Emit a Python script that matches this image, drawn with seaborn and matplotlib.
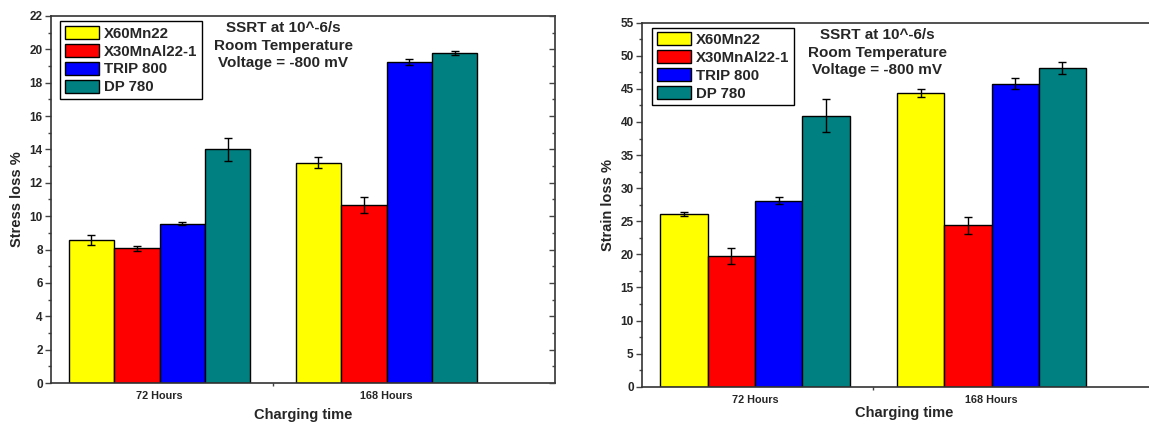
import numpy as np
import pandas as pd
import matplotlib
matplotlib.use("Agg")
import matplotlib.pyplot as plt
import seaborn as sns
from matplotlib.ticker import MultipleLocator, FixedLocator

# ---- data ----
charging = ["72 Hours", "168 Hours"]
steels = ["X60Mn22", "X30MnAl22-1", "TRIP 800", "DP 780"]
colors = ["#FFFF00", "#FF0000", "#0000FF", "#008080"]

stress_72 = [8.57, 8.09, 9.55, 14.0]
stress_168 = [13.21, 10.67, 19.23, 19.78]
stress_err_72 = [0.3, 0.15, 0.08, 0.7]
stress_err_168 = [0.35, 0.5, 0.17, 0.1]

strain_72 = [26.1, 19.8, 28.1, 40.95]
strain_168 = [44.38, 24.39, 45.8, 48.16]
strain_err_72 = [0.3, 1.2, 0.5, 2.45]
strain_err_168 = [0.65, 1.3, 0.8, 0.85]

annot = "SSRT at 10^-6/s\nRoom Temperature\nVoltage = -800 mV"

sns.set_theme(style="white")
plt.rcParams["font.family"] = ["Liberation Sans", "DejaVu Sans"]
plt.rcParams["font.weight"] = "bold"

fig = plt.figure(figsize=(11.49, 4.23), dpi=100)
W, H = 1149, 423


def make_df(v72, v168, e72, e168):
    rows = []
    for s, a, b, ea, eb in zip(steels, v72, v168, e72, e168):
        rows.append({"time": charging[0], "steel": s, "val": a, "err": ea})
        rows.append({"time": charging[1], "steel": s, "val": b, "err": eb})
    return pd.DataFrame(rows)


def panel(rect, df, ylim, major, minor, ylabel, leg_anchor, ann_xy, xpad):
    ax = fig.add_axes(rect)
    sns.barplot(data=df, x="time", y="val", hue="steel", order=charging,
                hue_order=steels, palette=colors, errorbar=None, width=0.8,
                edgecolor="black", linewidth=1.0, saturation=1, ax=ax)
    # error bars placed at the centres of the drawn bars
    for cont, s in zip(ax.containers, steels):
        sub = df[df["steel"] == s].set_index("time").loc[charging]
        xs = [p.get_x() + p.get_width() / 2 for p in cont.patches]
        ax.errorbar(xs, sub["val"].values, yerr=sub["err"].values, fmt="none",
                    ecolor="black", elinewidth=1.0, capsize=3, capthick=1.0,
                    zorder=5)
    ax.set_xlim(-0.478, 1.742)
    ax.set_ylim(*ylim)
    ax.yaxis.set_major_locator(MultipleLocator(major))
    ax.yaxis.set_minor_locator(MultipleLocator(minor))
    ax.xaxis.set_minor_locator(FixedLocator([0.5]))
    ax.tick_params(axis="y", which="major", direction="out", length=4,
                   width=1, color="#444444", labelsize=8.5, pad=2, left=True)
    ax.tick_params(axis="y", which="minor", direction="out", length=2.5,
                   width=1, color="#444444", left=True)
    ax.tick_params(axis="x", which="major", length=0, labelsize=7.8, pad=6)
    ax.tick_params(axis="x", which="minor", direction="out", length=2.5,
                   width=1, color="#444444", bottom=True)
    for lab in ax.get_xticklabels() + ax.get_yticklabels():
        lab.set_fontweight("bold")
    for sp in ax.spines.values():
        sp.set_visible(True)
        sp.set_color("#333333")
        sp.set_linewidth(1.2)
    ax.set_xlabel("Charging time", fontsize=10.5, fontweight="bold",
                  labelpad=xpad)
    ax.set_ylabel(ylabel, fontsize=10.5, fontweight="bold", labelpad=4)
    # right-side inward ticks
    ax2 = ax.twinx()
    ax2.set_ylim(*ylim)
    ax2.yaxis.set_major_locator(MultipleLocator(major))
    ax2.yaxis.set_minor_locator(MultipleLocator(minor))
    ax2.tick_params(axis="y", which="major", direction="in", length=4,
                    width=1, color="#444444", labelright=False, right=True)
    ax2.tick_params(axis="y", which="minor", direction="in", length=2.5,
                    width=1, color="#444444", right=True)
    ax2.grid(False)
    for sp in ax2.spines.values():
        sp.set_visible(False)
    leg = ax.legend(loc="upper left", bbox_to_anchor=leg_anchor, frameon=True,
                    fancybox=False, edgecolor="black", framealpha=1,
                    prop={"size": 10.8, "weight": "bold"}, handlelength=2.3,
                    handleheight=0.95, borderpad=0.3, labelspacing=0.22,
                    handletextpad=0.35, borderaxespad=0)
    leg.get_frame().set_linewidth(1.0)
    ax.text(ann_xy[0], ann_xy[1], annot, transform=ax.transAxes, ha="center",
            va="top", fontsize=11, fontweight="bold", linespacing=1.33)
    return ax


df_stress = make_df(stress_72, stress_168, stress_err_72, stress_err_168)
df_strain = make_df(strain_72, strain_168, strain_err_72, strain_err_168)

r1 = [51 / W, (H - 383) / H, 504 / W, 367 / H]
panel(r1, df_stress, (0, 22), 2, 1, "Stress loss %",
      ((60 - 51) / 504, (383 - 21.5) / 367),
      ((283 - 51) / 504, (383 - 21) / 367), 5)

r2 = [642 / W, (H - 386.7) / H, 525 / W, 364 / H]
panel(r2, df_strain, (0, 55), 5, 2.5, "Strain loss %",
      ((652 - 642) / 525, (386.7 - 28) / 364),
      ((877 - 642) / 525, (386.7 - 28) / 364), 1)

fig.savefig("out.png", dpi=100)
